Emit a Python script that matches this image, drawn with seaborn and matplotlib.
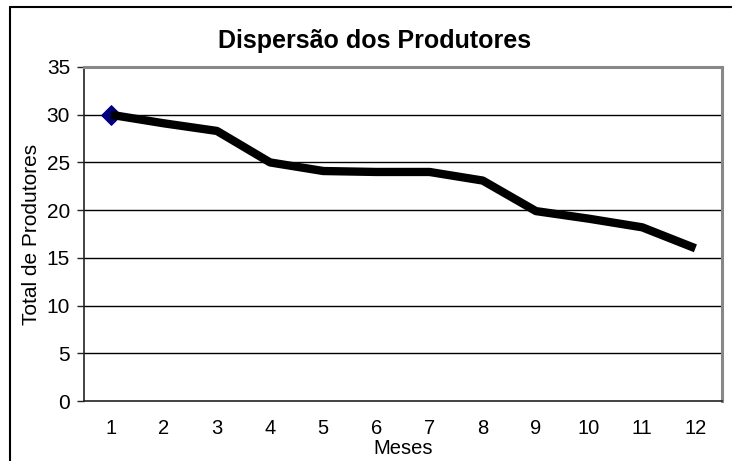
import matplotlib
matplotlib.use("Agg")
import matplotlib.pyplot as plt
from matplotlib.lines import Line2D
import seaborn as sns
import pandas as pd
import numpy as np

meses = ["1", "2", "3", "4", "5", "6", "7", "8", "9", "10", "11", "12"]
produtores = [30, 29.1, 28.3, 25.0, 24.1, 24.0, 24.0, 23.1, 19.9, 19.1, 18.2, 16.0]
y_ticks = [0, 5, 10, 15, 20, 25, 30, 35]

df = pd.DataFrame({"pos": np.arange(len(meses)), "Meses": meses, "Total": produtores})

sns.set_theme(style="white", rc={"text.color": "black", "axes.labelcolor": "black",
                                 "xtick.color": "black", "ytick.color": "black"})
plt.rcParams["font.family"] = ["Liberation Sans", "DejaVu Sans"]

fig = plt.figure(figsize=(7.32, 4.61), dpi=100)
ax = fig.add_axes([84/732, 1-401/461, (722-84)/732, (401-67)/461])

for y in y_ticks[1:-1]:
    ax.axhline(y, color="black", lw=1.0, zorder=1)

sns.lineplot(data=df, x="pos", y="Total", ax=ax, color="black", lw=6,
             solid_joinstyle="round", solid_capstyle="butt", zorder=3)
sns.scatterplot(data=df.iloc[:1], x="pos", y="Total", ax=ax, marker="D", s=100,
                color="#000080", edgecolor="#000080", zorder=2)

ax.set_xlim(-0.5, len(meses) - 0.5)
ax.set_ylim(0, 35)
ax.set_yticks(y_ticks)
ax.set_yticklabels([str(v) for v in y_ticks], fontsize=15)
ax.set_xticks(df["pos"])
ax.set_xticklabels(meses, fontsize=14.5)
ax.set_xticks(np.arange(-0.5, len(meses)), minor=True)
ax.tick_params(axis="x", which="major", length=0, pad=13)
ax.tick_params(axis="x", which="minor", length=6, width=1, color="#222222", direction="out")
ax.tick_params(axis="y", length=5, width=1, color="#222222", direction="out", left=True, pad=5)

ax.set_xlabel("Meses", fontsize=14.5, labelpad=1)
ax.set_ylabel("Total de Produtores", fontsize=15, labelpad=4)

for s in ["top", "right"]:
    ax.spines[s].set_color("#888888")
    ax.spines[s].set_linewidth(2.2)
for s in ["left", "bottom"]:
    ax.spines[s].set_color("#222222")
    ax.spines[s].set_linewidth(1.2)

fig.text(375/732, 1-41/461, "Dispersão dos Produtores", ha="center", va="center",
         fontsize=18, fontweight="bold", color="black")

fig.add_artist(Line2D([10/732, 1.0], [1-7/461, 1-7/461], transform=fig.transFigure, color="black", lw=1.5))
fig.add_artist(Line2D([10/732, 10/732], [0, 1-7/461], transform=fig.transFigure, color="black", lw=1.5))

fig.savefig("out.png", dpi=100, facecolor="white")
